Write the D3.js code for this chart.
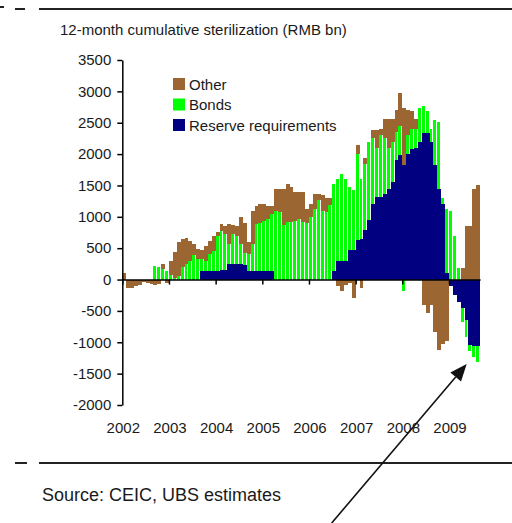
<!DOCTYPE html>
<html>
<head>
<meta charset="utf-8">
<script src="https://cdn.jsdelivr.net/npm/d3@7"></script>
<style>
body { margin: 0; background: #fff; }
text { font-family: "Liberation Sans", Arial, sans-serif; fill: #1a1a1a; }
</style>
</head>
<body>
<div id="chart"></div>
<script>
// monthly, Jan 2002 - Aug 2009 (RMB bn)
var reserve = [
	0, 0, 0, 0, 0, 0, 0, 0, 0, 0, 0, 0,                          // 2002
	0, 0, 0, 0, 0, 0, 0, 0, 140, 140, 140, 140,                  // 2003
	140, 150, 150, 250, 250, 250, 250, 230, 130, 130, 130, 130,  // 2004
	130, 130, 130, 0, 0, 0, 0, 0, 0, 0, 0, 0,                    // 2005
	0, 0, 0, 0, 0, 0, 130, 290, 290, 300, 470, 470,              // 2006
	630, 650, 790, 950, 1210, 1320, 1320, 1370, 1450, 1560, 1900, 1980, // 2007
	1830, 2000, 2080, 2100, 2200, 2330, 2330, 2200, 1830, 1450, 1200, 100, // 2008
	-100, -250, -350, -450, -640, -1050, -1060, -1060            // 2009
];
var bonds = [
	0, 0, 0, 0, 0, 0, 0, 0, 210, 200, 165, 140,
	80, 30, 60, 200, 250, 290, 390, 330, 180, 160, 260, 320,
	560, 630, 570, 310, 470, 440, 310, 200, 270, 430, 750, 770,
	800, 830, 920, 1100, 1080, 870, 920, 920, 940, 970, 920, 900,
	1000, 1130, 1270, 1100, 1080, 1190, 1400, 1320, 1400, 1300, 1010, 950,
	1370, 960, 1060, 1250, 1040, 780, 980, 880, 650, 640, 450, 470,
	-180, 300, 320, 300, 540, 430, 350, 200, 710, 1060, 100, 1030,
	1100, 700, 180, -220, -270, -90, -180, -250
];
var other = [
	100, -140, -140, -110, -90, -40, -60, -70, -80, -70, 90, -60,
	220, 410, 540, 440, 410, 330, 170, 150, 150, 240, 220, 240,
	60, 100, 130, 320, 150, 160, 440, 470, 200, 540, 300, 300,
	280, 210, 120, 350, 370, 580, 610, 560, 460, 430, 480, 230,
	200, 240, 100, 250, 220, 110, 0, -100, -190, -90, -60, -300,
	150, -140, 80, 0, 130, 280, 100, 310, 460, 360, 350, 530,
	900, 410, 280, 160, 0, -400, -530, -400, -830, -1130, -1020, -980,
	0, 0, 0, 180, 860, 860, 1450, 1500
];
var years = [2002, 2003, 2004, 2005, 2006, 2007, 2008, 2009];
var yTicks = [3500, 3000, 2500, 2000, 1500, 1000, 500, 0, -500, -1000, -1500, -2000];
var legendNames = ["Other", "Bonds", "Reserve requirements"];

var months = d3.timeMonths(new Date(2002, 0, 1), new Date(2009, 8, 1));
var color = { reserve: "#000080", bonds: "#00ff00", other: "#9c6633" };

var width = 512, height = 523;
var svg = d3.select("#chart").append("svg")
	.attr("width", width)
	.attr("height", height);

var x = d3.scaleBand()
	.domain(months)
	.range([122.3, 480.1])
	.padding(0);

var xYear = d3.scaleLinear()
	.domain([2002, 2009 + 8 / 12])
	.range([122.3, 480.1]);

var y = d3.scaleLinear()
	.domain([-2000, 3500])
	.range([405, 60]);

// stack, negatives go down from zero
var table = months.map(function(m, i) {
	return { month: m, reserve: reserve[i], bonds: bonds[i], other: other[i] };
});
var series = d3.stack()
	.keys(["reserve", "bonds", "other"])
	.offset(d3.stackOffsetDiverging)(table);

svg.append("g").selectAll("g")
	.data(series)
	.enter().append("g")
	.attr("fill", function(s) { return color[s.key]; })
	.each(function(s) {
		var w = s.key == "bonds" ? x.bandwidth() - 1 : x.bandwidth();
		d3.select(this).selectAll("rect")
			.data(s)
			.enter().append("rect")
			.attr("shape-rendering", "crispEdges")
			.attr("x", function(d) { return x(d.data.month); })
			.attr("width", w)
			.attr("y", function(d) { return y(d[1]); })
			.attr("height", function(d) { return y(d[0]) - y(d[1]); });
	});

// y axis, plain hyphen minus and no thousands comma
var yAxis = svg.append("g")
	.attr("transform", "translate(122.3,0)")
	.call(d3.axisLeft(y).tickValues(yTicks).tickSize(5).tickSizeOuter(0).tickPadding(6)
		.tickFormat(function(d) { return String(d); }));
yAxis.selectAll("text").style("font-size", "15px").style("font-family", "Liberation Sans, Arial, sans-serif").attr("fill", "#1a1a1a");
yAxis.selectAll("line, path").attr("stroke", "#000").attr("stroke-width", 1.5);

// x axis on zero line
var xAxis = svg.append("g")
	.attr("transform", "translate(0," + y(0) + ")")
	.call(d3.axisBottom(xYear).tickValues(years).tickSize(5).tickSizeOuter(0).tickFormat(""));
xAxis.selectAll("line, path").attr("stroke", "#000").attr("stroke-width", 1.5);

svg.append("g").selectAll("text")
	.data(years)
	.enter().append("text")
	.attr("x", function(d) { return xYear(d) + 1; })
	.attr("y", 433)
	.attr("text-anchor", "middle")
	.style("font-size", "15px")
	.text(function(d) { return d; });

// legend
var legend = svg.append("g").attr("transform", "translate(173,78)");
var legendColors = [color.other, color.bonds, color.reserve];
legendNames.forEach(function(name, i) {
	legend.append("rect")
		.attr("x", 0).attr("y", i * 20.5)
		.attr("width", 12).attr("height", 12)
		.attr("fill", legendColors[i]);
	legend.append("text")
		.attr("x", 16).attr("y", i * 20.5 + 11.5)
		.style("font-size", "15px")
		.text(name);
});

// title and source
svg.append("text")
	.attr("x", 60).attr("y", 35)
	.style("font-size", "15px")
	.text("12-month cumulative sterilization (RMB bn)");

svg.append("text")
	.attr("x", 42).attr("y", 501)
	.style("font-size", "18px")
	.text("Source: CEIC, UBS estimates");

// frame rules
svg.append("line").attr("x1", 39).attr("x2", 512).attr("y1", 9).attr("y2", 9)
	.attr("stroke", "#222").attr("stroke-width", 2);
svg.append("line").attr("x1", 0).attr("x2", 4).attr("y1", 7).attr("y2", 7)
	.attr("stroke", "#222").attr("stroke-width", 2);
svg.append("line").attr("x1", 15).attr("x2", 25).attr("y1", 9).attr("y2", 9)
	.attr("stroke", "#222").attr("stroke-width", 2);
svg.append("line").attr("x1", 39).attr("x2", 512).attr("y1", 463).attr("y2", 463)
	.attr("stroke", "#222").attr("stroke-width", 2);
svg.append("line").attr("x1", 15).attr("x2", 27).attr("y1", 463).attr("y2", 463)
	.attr("stroke", "#222").attr("stroke-width", 2);

// annotation arrow
var a0 = [331.7, 523], a1 = [466.7, 364];
var dx = a1[0] - a0[0], dy = a1[1] - a0[1], len = Math.sqrt(dx * dx + dy * dy);
var ux = dx / len, uy = dy / len, hl = 17, hw = 7;
var bx = a1[0] - ux * hl, by = a1[1] - uy * hl;
svg.append("line")
	.attr("x1", a0[0]).attr("y1", a0[1]).attr("x2", bx).attr("y2", by)
	.attr("stroke", "#111").attr("stroke-width", 1.6);
svg.append("path")
	.attr("d", "M" + a1[0] + "," + a1[1] +
		"L" + (bx - uy * hw) + "," + (by + ux * hw) +
		"L" + (bx + uy * hw) + "," + (by - ux * hw) + "Z")
	.attr("fill", "#111");
</script>
</body>
</html>
